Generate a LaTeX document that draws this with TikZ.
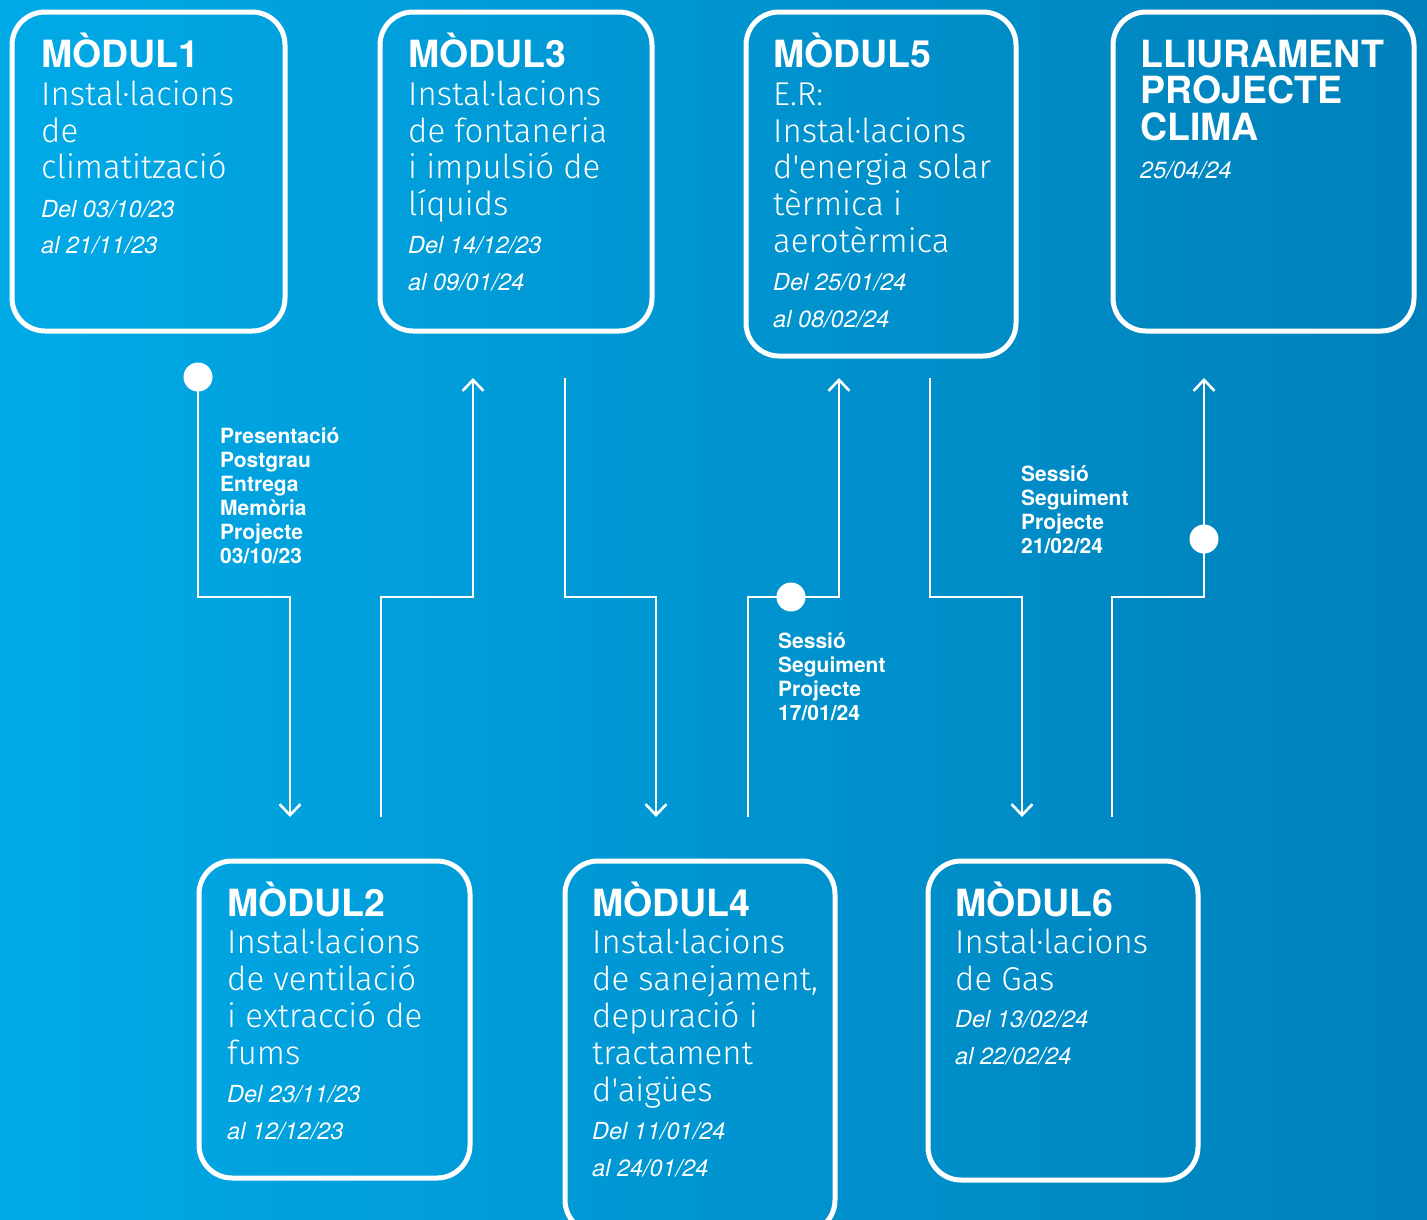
\documentclass[tikz,border=0pt]{standalone}
\usepackage{fontspec}
\usetikzlibrary{arrows.meta}
\newfontfamily\heros{TeX Gyre Heros}
\newfontfamily\lightf{Fira Sans Light}
\definecolor{bgl}{RGB}{0,170,231}
\definecolor{bgr}{RGB}{0,128,186}
\begin{document}
\begin{tikzpicture}[x=1pt,y=-1pt,
  mbox/.style={draw=white, line width=5pt, rounded corners=33pt, inner sep=0pt},
  ttl/.style={font=\heros\bfseries\fontsize{37.5}{37}\selectfont, text=white, inner sep=0pt, anchor=base west},
  lt/.style={font=\lightf\fontsize{33}{37}\selectfont, text=white, inner sep=0pt, anchor=base west},
  dt/.style={font=\heros\itshape\fontsize{23.5}{22}\selectfont, text=white, inner sep=0pt, anchor=base west},
  lab/.style={font=\heros\bfseries\fontsize{21}{24}\selectfont, text=white, inner sep=0pt, align=left, anchor=base west},
  conn/.style={draw=white, line width=2.6pt},
  arr/.style={conn, -{Straight Barb[length=11pt,width=21pt]}},
  dot/.style={circle, fill=white, minimum size=29pt, inner sep=0pt},
]
\useasboundingbox (0,0) rectangle (1427,1219);
\clip (0,0) rectangle (1427,1219);
\fill[left color=bgl, right color=bgr] (0,0) rectangle (1427,1219);

% boxes
\node[mbox, minimum width=273pt, minimum height=319pt] (m1) at (148.5,171.5) {};
\node[mbox, minimum width=272pt, minimum height=319pt] (m3) at (516,171.5) {};
\node[mbox, minimum width=270pt, minimum height=344pt] (m5) at (881,184) {};
\node[mbox, minimum width=301pt, minimum height=319pt] (ml) at (1263.5,171.5) {};
\node[mbox, minimum width=271pt, minimum height=317pt] (m2) at (334.5,1019.5) {};
\node[mbox, minimum width=270pt, minimum height=372pt] (m4) at (700,1047) {};
\node[mbox, minimum width=270pt, minimum height=319pt] (m6) at (1063,1020.5) {};

% box 1
\node[ttl] (t1) at (41,67) {MÒDUL1};
\node[lt] (t1a) at (41,105) {Instal·lacions};
\node[lt] (t1b) at (41,142) {de};
\node[lt] (t1c) at (41,178) {climatització};
\node[dt] (t1d) at (41,217) {Del 03/10/23};
\node[dt] (t1e) at (41,253) {al 21/11/23};

% box 3
\node[ttl] (t3) at (408,67) {MÒDUL3};
\node[lt] (t3a) at (408,105) {Instal·lacions};
\node[lt] (t3b) at (408,142) {de fontaneria};
\node[lt] (t3c) at (408,178) {i impulsió de};
\node[lt] (t3d) at (408,215) {líquids};
\node[dt] (t3e) at (408,253) {Del 14/12/23};
\node[dt] (t3f) at (408,290) {al 09/01/24};

% box 5
\node[ttl] (t5) at (773,67) {MÒDUL5};
\node[lt] (t5a) at (773,105) {E.R:};
\node[lt] (t5b) at (773,142) {Instal·lacions};
\node[lt] (t5c) at (773,178) {d'energia solar};
\node[lt] (t5d) at (773,215) {tèrmica i};
\node[lt] (t5e) at (773,252) {aerotèrmica};
\node[dt] (t5f) at (773,290) {Del 25/01/24};
\node[dt] (t5g) at (773,327) {al 08/02/24};

% lliurament
\node[ttl] (tl) at (1140,67) {LLIURAMENT};
\node[ttl] (tla) at (1140,103) {PROJECTE};
\node[ttl] (tlb) at (1140,140) {CLIMA};
\node[dt] (tlc) at (1140,178) {25/04/24};

% box 2
\node[ttl] (t2) at (227,916) {MÒDUL2};
\node[lt] (t2a) at (227,953) {Instal·lacions};
\node[lt] (t2b) at (227,990) {de ventilació};
\node[lt] (t2c) at (227,1027) {i extracció de};
\node[lt] (t2d) at (227,1064) {fums};
\node[dt] (t2e) at (227,1102) {Del 23/11/23};
\node[dt] (t2f) at (227,1139) {al 12/12/23};

% box 4
\node[ttl] (t4) at (592,916) {MÒDUL4};
\node[lt] (t4a) at (592,953) {Instal·lacions};
\node[lt] (t4b) at (592,990) {de sanejament,};
\node[lt] (t4c) at (592,1027) {depuració i};
\node[lt] (t4d) at (592,1064) {tractament};
\node[lt] (t4e) at (592,1101) {d'aigües};
\node[dt] (t4f) at (592,1139) {Del 11/01/24};
\node[dt] (t4g) at (592,1176) {al 24/01/24};

% box 6
\node[ttl] (t6) at (955,916) {MÒDUL6};
\node[lt] (t6a) at (955,953) {Instal·lacions};
\node[lt] (t6b) at (955,990) {de Gas};
\node[dt] (t6c) at (955,1027) {Del 13/02/24};
\node[dt] (t6d) at (955,1064) {al 22/02/24};

% connector end points
\coordinate (s1) at (198,377);
\coordinate (e1) at (290,817);
\coordinate (s2) at (381,817);
\coordinate (e2) at (473,378);
\coordinate (s3) at (565,378);
\coordinate (e3) at (656,817);
\coordinate (s4) at (748,817);
\coordinate (e4) at (839,378);
\coordinate (s5) at (930,378);
\coordinate (e5) at (1022,817);
\coordinate (s6) at (1112,817);
\coordinate (e6) at (1204,378);

\draw[arr] (s1) -- ++(0,220) -| (e1);
\draw[arr] (s2) -- ++(0,-220) -| (e2);
\draw[arr] (s3) -- ++(0,219) -| (e3);
\draw[arr] (s4) -- ++(0,-220) -| (e4);
\draw[arr] (s5) -- ++(0,219) -| (e5);
\draw[arr] (s6) -- ++(0,-220) -| (e6);

% dots
\node[dot] (d1) at (s1) {};
\node[dot] (d4) at (791,597) {};
\node[dot] (d6) at (1204,539) {};

% labels (base anchor = baseline of last line)
\node[lab] (l1) at (220,563) {Presentació\\Postgrau\\Entrega\\Memòria\\Projecte\\03/10/23};
\node[lab] (l2) at (778,720) {Sessió\\Seguiment\\Projecte\\17/01/24};
\node[lab] (l3) at (1021,553) {Sessió\\Seguiment\\Projecte\\21/02/24};
\end{tikzpicture}
\end{document}
